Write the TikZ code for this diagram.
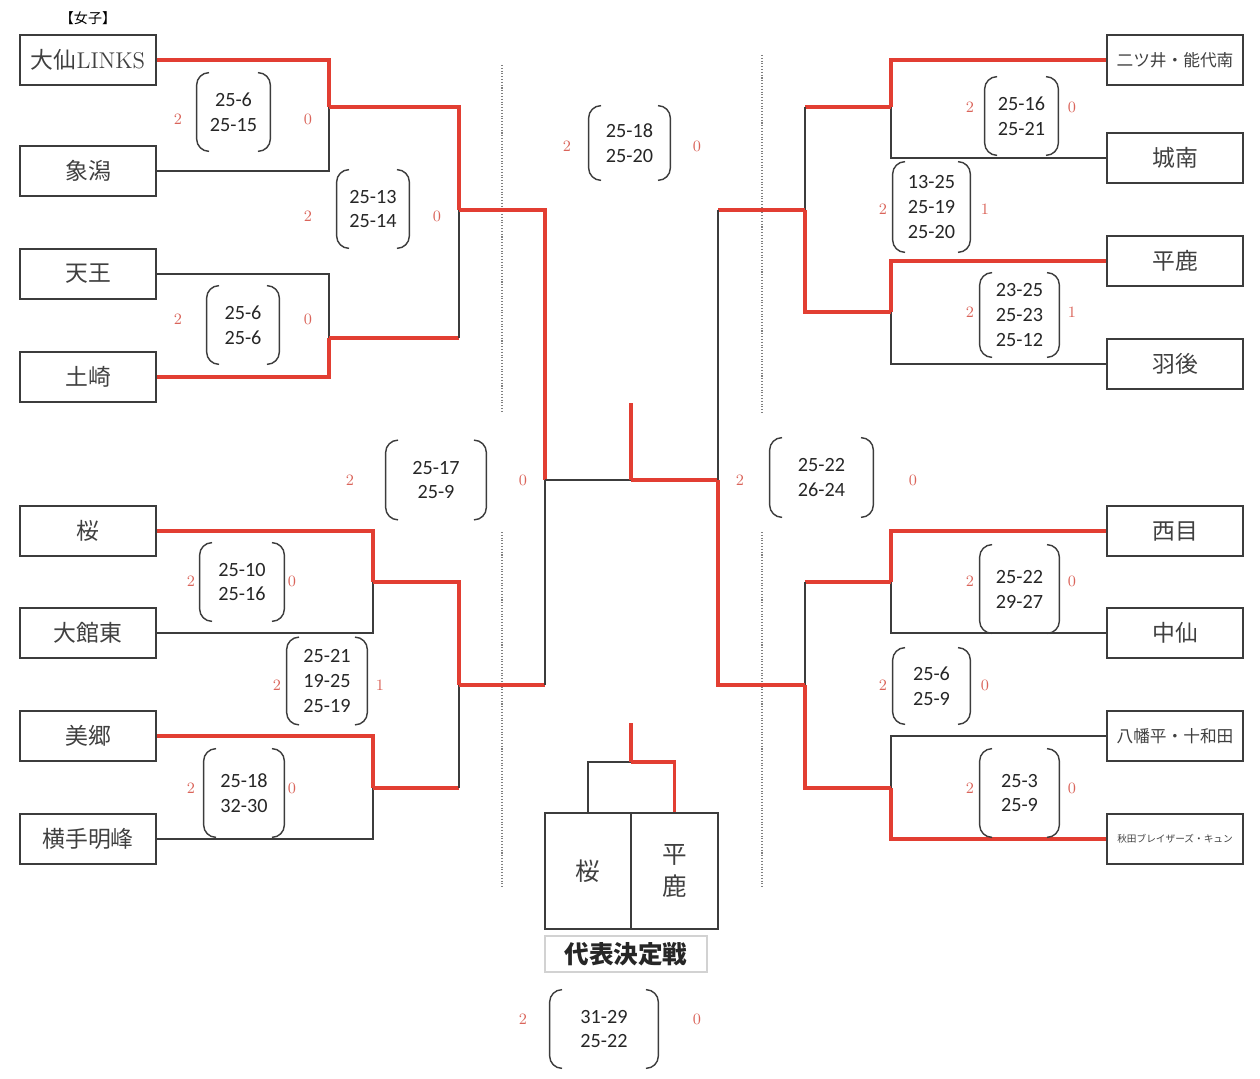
\documentclass[tikz,border=0pt]{standalone}
\usepackage{fontspec}
\newfontfamily\cjk{Noto Sans CJK JP}
\newfontfamily\scorefont{Carlito}
\definecolor{winred}{RGB}{226,62,50}
\definecolor{ptred}{RGB}{218,100,90}
\definecolor{linegray}{RGB}{60,60,60}

% Скобки вокруг счёта
\newcommand{\brackets}[1]{%
    \draw[paren] (#1.north west) ++(12,0) -- (#1.north west) -- (#1.south west) -- ++(12,0);
    \draw[paren] (#1.north east) ++(-12,0) -- (#1.north east) -- (#1.south east) -- ++(-12,0);
}

\begin{document}
\begin{tikzpicture}[
    x=0.02cm, y=-0.02cm,
    team/.style={draw=linegray, line width=0.9pt, minimum width=2.72cm, minimum height=1cm, inner sep=0pt, text=black!75, font=\cjk\fontsize{13}{15}\selectfont}, % Стиль для команд
    score/.style={inner sep=0pt, align=center, text=black!85, font=\scorefont\fontsize{11.5}{14.2}\selectfont}, % Стиль для счёта
    point/.style={text=ptred, font=\fontsize{9}{10}\selectfont}, % Стиль для очков
    paren/.style={draw=linegray, line width=0.8pt, rounded corners=7pt}, % Стиль для скобок
    win/.style={draw=winred, line width=2pt}, % Стиль для победителя
    lose/.style={draw=linegray, line width=0.85pt}, % Стиль для проигравшего
    sep/.style={draw=gray, densely dotted, line width=0.6pt} % Стиль для разделителей
]
    \useasboundingbox (0,0) rectangle (1260,1078);

    \node[font=\cjk\fontsize{8}{9}\selectfont] (title) at (88,18) {【女子】};

    % Левые команды
    \node[team] (t1) at (88,60) {大仙{\rmfamily LINKS}};
    \node[team] (t2) at (88,171) {象潟};
    \node[team] (t3) at (88,274) {天王};
    \node[team] (t4) at (88,377) {土崎};
    \node[team] (t5) at (88,531) {桜};
    \node[team] (t6) at (88,633) {大館東};
    \node[team] (t7) at (88,736) {美郷};
    \node[team] (t8) at (88,839) {横手明峰};

    % Правые команды
    \node[team, font=\cjk\fontsize{9.5}{11}\selectfont] (r1) at (1175,60) {二ツ井・能代南};
    \node[team] (r2) at (1175,158) {城南};
    \node[team] (r3) at (1175,261) {平鹿};
    \node[team] (r4) at (1175,364) {羽後};
    \node[team] (r5) at (1175,531) {西目};
    \node[team] (r6) at (1175,633) {中仙};
    \node[team, font=\cjk\fontsize{9.5}{11}\selectfont] (r7) at (1175,736) {八幡平・十和田};
    \node[team, font=\cjk\fontsize{5.5}{6}\selectfont] (r8) at (1175,839) {秋田ブレイザーズ・キュン};

    % Точки соединения
    \coordinate (j1) at (329,107);
    \coordinate (j2) at (329,338);
    \coordinate (j3) at (373,582);
    \coordinate (j4) at (373,788);
    \coordinate (k1) at (459,210);
    \coordinate (k2) at (459,685);
    \coordinate (m1) at (545,480);
    \coordinate (c) at (631,480);
    \coordinate (top) at (631,403);
    \coordinate (m2) at (718,480);
    \coordinate (k3) at (805,210);
    \coordinate (k4) at (805,685);
    \coordinate (j5) at (891,107);
    \coordinate (j6) at (891,312);
    \coordinate (j7) at (891,582);
    \coordinate (j8) at (891,788);

    % Разделители
    \draw[sep] (502,65) -- (502,413);
    \draw[sep] (502,532) -- (502,888);
    \draw[sep] (762,55) -- (762,413);
    \draw[sep] (762,532) -- (762,888);

    % Левая сетка
    \draw[lose] (t2.east) -| (j1);
    \draw[win] (t1.east) -| (j1);
    \draw[lose] (t3.east) -| (j2);
    \draw[win] (t4.east) -| (j2);
    \draw[win] (j1) -| (k1);
    \draw[win] (j2) -- (j2 -| k1);
    \draw[lose] (j2 -| k1) -- (k1);
    \draw[win] (k1) -| (m1);
    \draw[lose] (t6.east) -| (j3);
    \draw[win] (t5.east) -| (j3);
    \draw[lose] (t8.east) -| (j4);
    \draw[win] (t7.east) -| (j4);
    \draw[win] (j3) -| (k2);
    \draw[win] (j4) -- (j4 -| k2);
    \draw[lose] (j4 -| k2) -- (k2);
    \draw[win] (k2) -- (k2 -| m1);
    \draw[lose] (k2 -| m1) -- (m1);

    % Финал
    \draw[lose] (m1) -- (c);
    \draw[win] (c) -- (m2);
    \draw[win] (c) -- (top);

    % Правая сетка
    \draw[lose] (r2.west) -| (j5);
    \draw[win] (r1.west) -| (j5);
    \draw[lose] (r4.west) -| (j6);
    \draw[win] (r3.west) -| (j6);
    \draw[win] (j5) -- (j5 -| k3);
    \draw[lose] (j5 -| k3) -- (k3);
    \draw[win] (j6) -| (k3);
    \draw[win] (k3) -- (k3 -| m2);
    \draw[lose] (k3 -| m2) -- (m2);
    \draw[lose] (r6.west) -| (j7);
    \draw[win] (r5.west) -| (j7);
    \draw[lose] (r7.west) -| (j8);
    \draw[win] (r8.west) -| (j8);
    \draw[win] (j7) -- (j7 -| k4);
    \draw[lose] (j7 -| k4) -- (k4);
    \draw[win] (j8) -| (k4);
    \draw[win] (k4) -| (m2);

    %代表決定戦
    \node[team, minimum width=1.73cm, minimum height=2.32cm, font=\cjk\fontsize{14}{16}\selectfont] (f1) at (588,871) {桜};
    \node[team, minimum width=1.73cm, minimum height=2.32cm, align=center, font=\cjk\fontsize{14}{18}\selectfont] (f2) at (674.5,871) {平\\鹿};
    \node[draw=gray!35, line width=0.8pt, minimum width=3.24cm, minimum height=0.72cm, inner sep=0pt, text=black!85, font=\cjk\bfseries\fontsize{14}{16}\selectfont] (fl) at (626,954) {代表決定戦};
    \coordinate (fc) at (631,762);
    \coordinate (ftop) at (631,723);
    \draw[lose] (f1.north) |- (fc);
    \draw[win] (fc) -| (f2.north);
    \draw[win] (fc) -- (ftop);

    % Счёт
    \node[score, minimum width=1.46cm, minimum height=1.56cm] (s1) at (233.5,112) {25-6\\25-15};
    \node[score, minimum width=1.44cm, minimum height=1.56cm] (s2) at (373,209) {25-13\\25-14};
    \node[score, minimum width=1.44cm, minimum height=1.56cm] (s3) at (243,325) {25-6\\25-6};
    \node[score, minimum width=2.0cm, minimum height=1.58cm] (s4) at (436,480) {25-17\\25-9};
    \node[score, minimum width=1.68cm, minimum height=1.56cm] (s5) at (242,582) {25-10\\25-16};
    \node[score, minimum width=1.6cm, minimum height=1.74cm] (s6) at (327,681) {25-21\\19-25\\25-19};
    \node[score, minimum width=1.6cm, minimum height=1.76cm] (s7) at (244,793) {25-18\\32-30};
    \node[score, minimum width=1.62cm, minimum height=1.48cm] (s8) at (629.5,143) {25-18\\25-20};
    \node[score, minimum width=1.46cm, minimum height=1.56cm] (s9) at (1021.5,116) {25-16\\25-21};
    \node[score, minimum width=1.54cm, minimum height=1.8cm] (s10) at (931.5,207) {13-25\\25-19\\25-20};
    \node[score, minimum width=1.58cm, minimum height=1.68cm] (s11) at (1019.5,315) {23-25\\25-23\\25-12};
    \node[score, minimum width=2.06cm, minimum height=1.58cm] (s12) at (821.5,477.5) {25-22\\26-24};
    \node[score, minimum width=1.58cm, minimum height=1.76cm] (s13) at (1019.5,589) {25-22\\29-27};
    \node[score, minimum width=1.54cm, minimum height=1.52cm] (s14) at (931.5,686) {25-6\\25-9};
    \node[score, minimum width=1.58cm, minimum height=1.76cm] (s15) at (1019.5,793) {25-3\\25-9};
    \node[score, minimum width=2.16cm, minimum height=1.56cm] (s16) at (604,1029) {31-29\\25-22};
    \foreach \s in {s1,s2,s3,s4,s5,s6,s7,s8,s9,s10,s11,s12,s13,s14,s15,s16}
        {\brackets{\s}}

    % Очки
    \node[point] (p1a) at (178,119) {2};
    \node[point] (p1b) at (308,119) {0};
    \node[point] (p2a) at (308,216) {2};
    \node[point] (p2b) at (437,216) {0};
    \node[point] (p3a) at (178,319) {2};
    \node[point] (p3b) at (308,319) {0};
    \node[point] (p4a) at (350,480) {2};
    \node[point] (p4b) at (523,480) {0};
    \node[point] (p5a) at (191,581) {2};
    \node[point] (p5b) at (292,581) {0};
    \node[point] (p6a) at (277,685) {2};
    \node[point] (p6b) at (380,685) {1};
    \node[point] (p7a) at (191,788) {2};
    \node[point] (p7b) at (292,788) {0};
    \node[point] (p8a) at (567,146) {2};
    \node[point] (p8b) at (697,146) {0};
    \node[point] (p9a) at (970,107) {2};
    \node[point] (p9b) at (1072,107) {0};
    \node[point] (p10a) at (883,209) {2};
    \node[point] (p10b) at (985,209) {1};
    \node[point] (p11a) at (970,312) {2};
    \node[point] (p11b) at (1072,312) {1};
    \node[point] (p12a) at (740,480) {2};
    \node[point] (p12b) at (913,480) {0};
    \node[point] (p13a) at (970,581) {2};
    \node[point] (p13b) at (1072,581) {0};
    \node[point] (p14a) at (883,685) {2};
    \node[point] (p14b) at (985,685) {0};
    \node[point] (p15a) at (970,788) {2};
    \node[point] (p15b) at (1072,788) {0};
    \node[point] (p16a) at (523,1019) {2};
    \node[point] (p16b) at (697,1019) {0};

\end{tikzpicture}
\end{document}
